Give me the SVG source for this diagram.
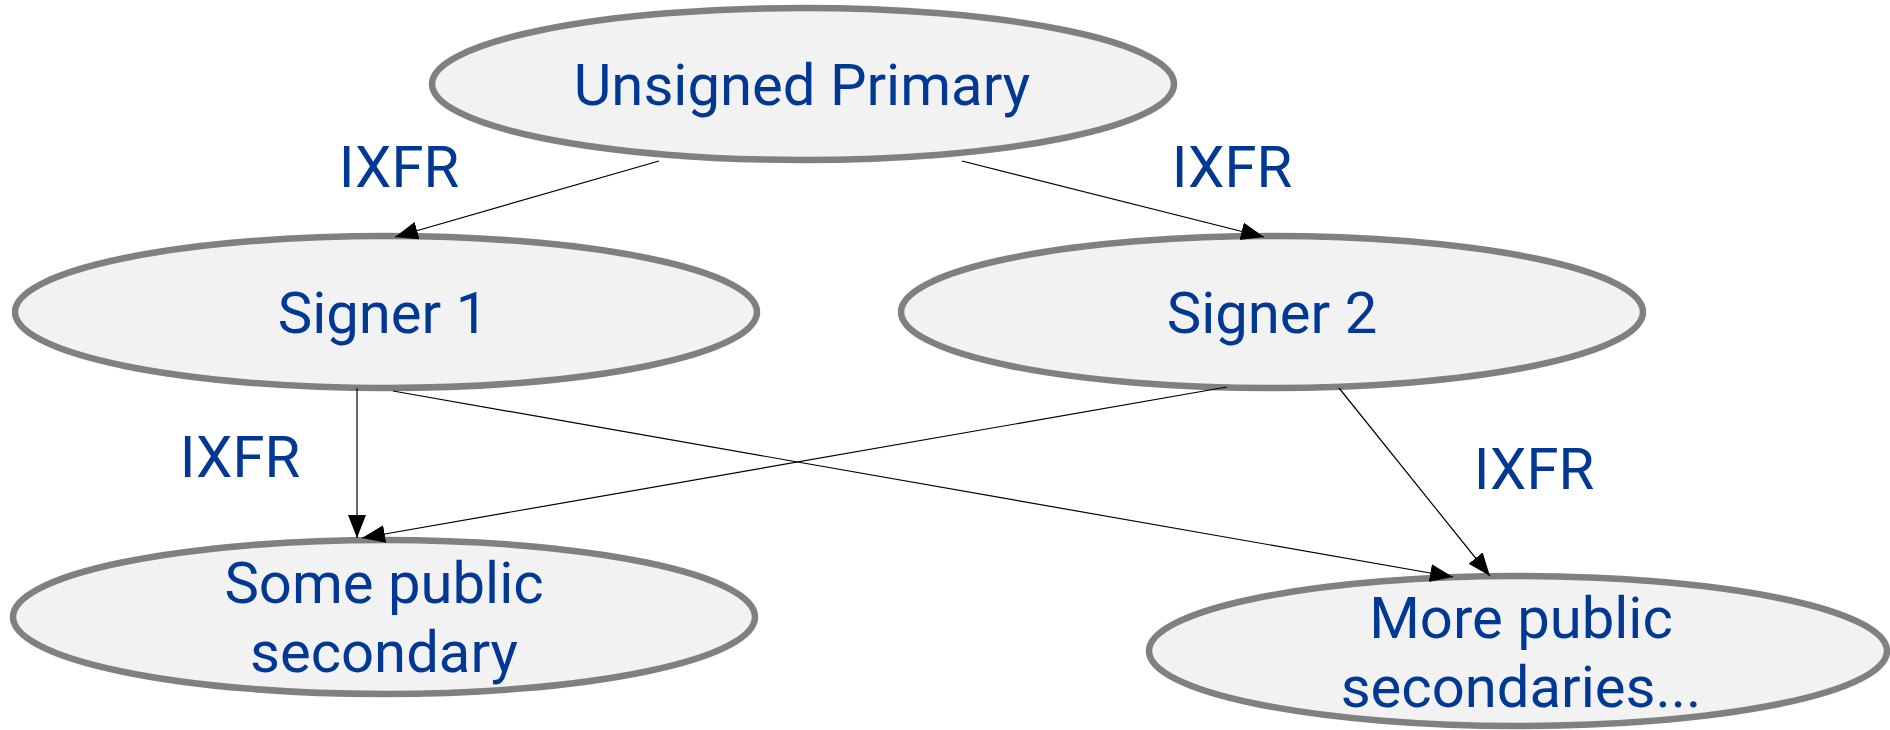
<svg xmlns="http://www.w3.org/2000/svg" width="1890" height="730" viewBox="0 0 1890 730">
<style>
.node ellipse{fill:#f2f2f2;stroke:#808080;stroke-width:6.5}
text{font-family:Roboto,"Liberation Sans",sans-serif;font-size:58px;fill:#003894;text-anchor:middle}
.edges line{stroke:#000;stroke-width:1.2;marker-end:url(#arr)}
</style>
<defs>
<marker id="arr" markerUnits="userSpaceOnUse" markerWidth="24" markerHeight="19" refX="23" refY="9" orient="auto">
<path d="M0,0 L23,9 L0,18 z" fill="#000"/>
</marker>
</defs>
<rect width="1890" height="730" fill="#fff"/>
<g id="n-unsigned" class="node"><ellipse cx="803" cy="84" rx="371" ry="76"/><text x="802" y="105">Unsigned Primary</text></g>
<g id="n-signer1" class="node"><ellipse cx="386" cy="312" rx="371" ry="76"/><text x="383" y="333">Signer 1</text></g>
<g id="n-signer2" class="node"><ellipse cx="1272" cy="312" rx="371" ry="76"/><text x="1272" y="333">Signer 2</text></g>
<g id="n-some" class="node"><ellipse cx="384" cy="617" rx="371" ry="77"/><text x="384" y="603">Some public</text><text x="384" y="672">secondary</text></g>
<g id="n-more" class="node"><ellipse cx="1518" cy="651" rx="369" ry="75"/><text x="1521" y="638">More public</text><text x="1521" y="707">secondaries...</text></g>
<g id="edges" class="edges">
<line x1="659" y1="161" x2="395" y2="237"/>
<line x1="962" y1="161" x2="1264" y2="237"/>
<line x1="357" y1="388" x2="357" y2="538"/>
<line x1="1227" y1="387" x2="362" y2="538"/>
<line x1="393" y1="391" x2="1453" y2="577"/>
<line x1="1339" y1="388" x2="1490" y2="576"/>
</g>
<g id="labels">
<text x="399" y="187">IXFR</text>
<text x="1232" y="187">IXFR</text>
<text x="240" y="477">IXFR</text>
<text x="1534" y="489">IXFR</text>
</g>
</svg>
